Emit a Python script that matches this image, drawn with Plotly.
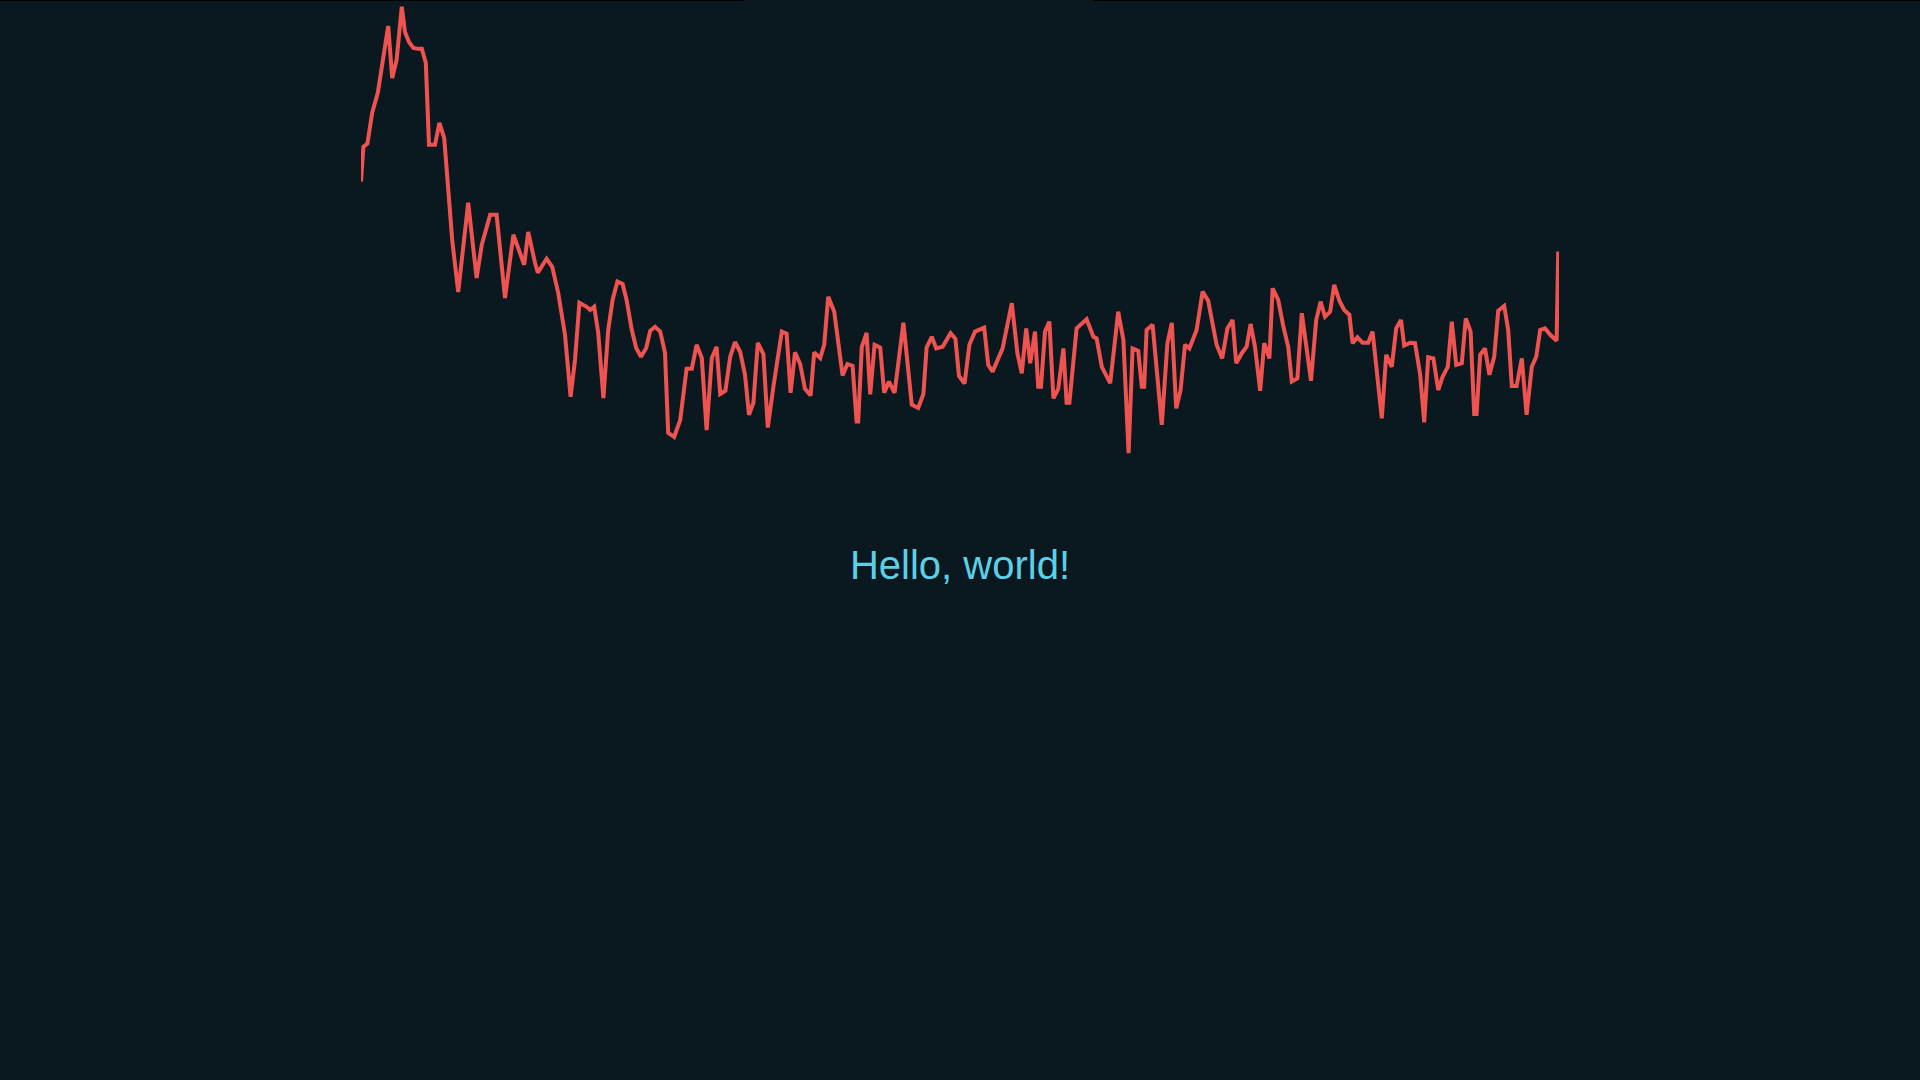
import plotly.graph_objects as go

# sample position and value
t = [0, 0.6, 1.6, 2.8, 4.2, 5.6, 6.8, 7.8, 8.9, 10.2, 11, 12, 13.1, 14.2, 15.2, 16.2, 17, 18.5, 19.6, 20.8,
     22.8, 24.3, 26.8, 28.9, 30.2, 32.3, 33.9, 36, 38.1, 40.8, 41.8, 43.5, 44.2, 46.4, 47.8, 49.3, 51, 52.4, 53.5, 54.6,
     56.4, 57.3, 58.3, 59.3, 60.6, 61.8, 62.9, 64.1, 65.4, 66.4, 67.7, 68.8, 70, 71.3, 72.3, 73.5, 74.8, 76, 76.8, 78.3,
     79.8, 81.4, 82.7, 83.9, 85.2, 86.4, 87.7, 88.9, 89.8, 91.1, 92.3, 93.5, 94.8, 96, 97, 98.1, 99.2, 100.6, 101.7, 103.1,
     105.2, 106.4, 107.4, 108.5, 109.8, 111, 112.4, 113.3, 114.8, 115.8, 116.8, 118.3, 120.4, 121.6, 122.9, 123.9, 124.3, 125.2, 126.4, 127.3,
     128.4, 129.8, 130.8, 132, 133.4, 135.6, 137.7, 139.3, 140.6, 141.4, 142.7, 143.8, 145.4, 147.4, 148.6, 149.5, 150.9, 152.1, 153.5, 155.8,
     156.8, 157.9, 160.4, 162.7, 164.1, 165.2, 166.3, 167.3, 168.5, 169.3, 170, 171, 172.1, 173.1, 174.3, 175.6, 176.4, 177.1, 178.9, 181.4,
     183.1, 183.9, 185.2, 187.3, 189.3, 190.6, 191.9, 192.9, 194.3, 195.2, 195.8, 196.4, 197.9, 200.2, 201.6, 202.7, 203.8, 204.9, 206, 207.1,
     208.9, 210.4, 211.8, 213.9, 215.3, 216.6, 217.9, 218.8, 220.2, 221.4, 222.4, 223.5, 224.8, 225.8, 227.1, 227.9, 229.3, 230.6, 231.8, 232.7,
     234.1, 235.2, 236.4, 237.5, 238.8, 239.9, 241, 242.3, 243.3, 244.6, 245.8, 247.1, 247.9, 249.1, 250.4, 251.8, 252.9, 253.9, 255.2, 256.3,
     257.7, 258.8, 260, 260.8, 262.3, 263.5, 264.8, 265.8, 266.8, 268.1, 269.3, 270.4, 271.7, 272.7, 273.8, 275.2, 276.2, 277.4, 278.3, 278.9,
     279.8, 281, 282.1, 283.3, 284.3, 285.8, 286.8, 287.7, 288.9, 290.2, 291.4, 292.7, 293.8, 294.8, 296, 297.3, 298.9, 299.3]

values = [69.6, 78.3, 79.1, 86.8, 91.8, 100.8, 108.5, 95.5, 100, 113.3, 107, 104.5, 103, 102.8, 102.8, 99.3, 78.8, 78.8, 84.3, 80.5,
          55, 42, 64.3, 45.5, 53.8, 61.3, 61.3, 40.5, 56.3, 48.8, 57, 49.3, 46.8, 50.3, 48.3, 41.8, 31.3, 15.8, 25, 39.3,
          38.3, 37.5, 38.3, 31.8, 15.5, 32.5, 40, 44.6, 44, 40, 32.5, 28, 25.8, 28, 32.3, 33.3, 32.1, 26.8, 6.8, 5.8,
          10, 22.8, 22.8, 28.8, 25.5, 7.5, 25.5, 28.3, 16.5, 17.3, 25.8, 29.5, 27, 21.3, 11.3, 14.3, 29.3, 26.5, 8.1, 18.3,
          32.1, 31.6, 16.8, 26.9, 24, 17.8, 16.1, 26.9, 25.5, 28.8, 40.8, 37.1, 21.1, 24, 23.5, 9.6, 9.6, 28.3, 31.8, 16.4,
          28.8, 28.1, 16.8, 19.6, 16.8, 34.3, 13.8, 13, 16.5, 28.1, 30.8, 27.9, 28.3, 31.7, 30.3, 21, 19.1, 28.8, 32.1, 33.1,
          23.8, 22.1, 27.9, 39.2, 26.7, 21.7, 32.9, 24.2, 32.1, 18.3, 18.3, 32.1, 34.6, 15.4, 17.7, 27.9, 14.3, 14.3, 32.9, 35.2,
          30.8, 30.4, 23.3, 19.2, 37.1, 30, 1.7, 27.9, 27.3, 18.3, 18.3, 32.5, 33.8, 8.8, 29.2, 34.3, 12.9, 17.5, 28.8, 27.9,
          32.5, 42.1, 39.8, 28.8, 25.4, 32.9, 35, 24.2, 26.7, 28.3, 34, 28.3, 17.3, 29.2, 25.4, 42.9, 40, 33.3, 28.3, 19.6,
          20.4, 36.7, 28.3, 19.8, 35, 39.6, 35.8, 37.1, 43.8, 39.8, 37.5, 36.3, 29.2, 30.7, 29.3, 29.3, 32.1, 22.9, 10.4, 26.3,
          23.3, 32.9, 35, 28.6, 29.3, 29.2, 21.3, 9.4, 25.7, 25.4, 17.5, 20.8, 23.3, 34.6, 23.8, 24.2, 35.4, 32.1, 11.5, 11.5,
          26.3, 27.9, 21.3, 25.8, 37.3, 38.5, 32.5, 18.5, 18.5, 25.4, 11.3, 23.3, 25.8, 32.5, 32.9, 31.3, 29.8, 52.1]

title_text = "Hello, world!"

BG = "#0a1920"
LINE = "#ef5350"
TEXT = "#5bd0e6"

fig = go.Figure()
fig.add_trace(go.Scatter(x=t, y=values, mode="lines",
                         line=dict(color=LINE, width=4), hoverinfo="skip", showlegend=False))

fig.update_layout(
    width=1920, height=1080,
    paper_bgcolor=BG, plot_bgcolor=BG,
    margin=dict(l=361, r=361, t=0, b=620, pad=0),
    xaxis=dict(range=[0, 299.5], visible=False, showgrid=False, zeroline=False, fixedrange=True),
    yaxis=dict(range=[0, 115], visible=False, showgrid=False, zeroline=False, fixedrange=True),
    title=dict(text=title_text, x=0.5, xanchor="center", xref="paper",
               y=1 - 564.5 / 1080, yref="container", yanchor="middle",
               font=dict(family="Arial, Liberation Sans, sans-serif", size=40, color=TEXT)),
    showlegend=False,
    shapes=[
        dict(type="rect", xref="paper", yref="paper", x0=-361 / 1198, x1=(744 - 361) / 1198,
             y0=1 - 1 / 460, y1=1, fillcolor="#000000", line=dict(width=0), layer="above"),
        dict(type="rect", xref="paper", yref="paper", x0=(1093 - 361) / 1198, x1=(1920 - 361) / 1198,
             y0=1 - 1 / 460, y1=1, fillcolor="#000000", line=dict(width=0), layer="above"),
    ],
)

fig.write_html("out.html", config={"displayModeBar": False})
